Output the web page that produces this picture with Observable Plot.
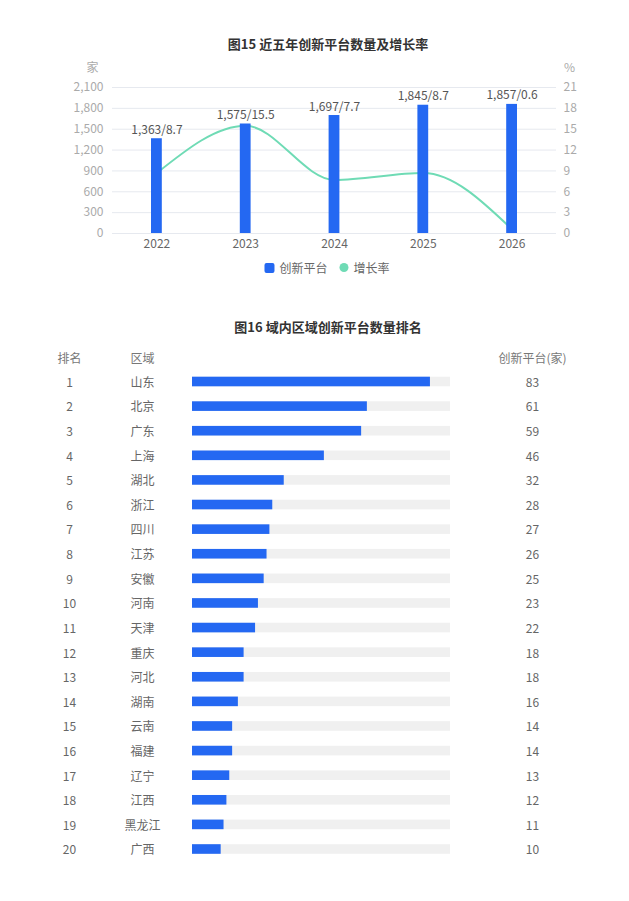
<!DOCTYPE html>
<html>
<head>
<meta charset="utf-8">
<script src="https://cdn.jsdelivr.net/npm/d3@7"></script>
<script src="https://cdn.jsdelivr.net/npm/@observablehq/plot@0.6"></script>
<style>
  html, body { margin: 0; padding: 0; background: #fff; }
  body { width: 629px; height: 901px; position: relative; font-family: "Noto Sans CJK SC", "Noto Sans", sans-serif; overflow: hidden; }
  .title { position: absolute; transform: translateX(-50%); white-space: nowrap; font-size: 13px; font-weight: bold; color: #333; line-height: 20px; }
  .abs { position: absolute; left: 0; }
  .abs svg { display: block; }
  .legend { position: absolute; top: 259px; left: 327px; transform: translateX(-50%); display: flex; align-items: center; gap: 12px; font-size: 12px; color: #666; white-space: nowrap; }
  .legend span.item { display: flex; align-items: center; gap: 5px; }
  .sw-bar { width: 10px; height: 10px; border-radius: 2px; background: #2468f2; display: inline-block; }
  .sw-dot { width: 9px; height: 9px; border-radius: 50%; background: #6fdbb5; display: inline-block; }
</style>
</head>
<body>
<div class="title" style="top:34px; left:328px;">图15 近五年创新平台数量及增长率</div>
<div id="chart1" class="abs" style="top:55px;"></div>
<div class="legend">
  <span class="item"><i class="sw-bar"></i>创新平台</span>
  <span class="item"><i class="sw-dot"></i>增长率</span>
</div>
<div class="title" style="top:317px; left:328px;">图16 域内区域创新平台数量排名</div>
<div id="chart2" class="abs" style="top:340px;"></div>
<script>
// ---- Data: chart 1 ----
const years = ["2022", "2023", "2024", "2025", "2026"];
const platforms = [1363, 1575, 1697, 1845, 1857];
const growth = [8.7, 15.5, 7.7, 8.7, 0.6];
const leftTicks = [0, 300, 600, 900, 1200, 1500, 1800, 2100];
const rateScale = 100; // right axis (%) mapped onto left axis (家): 21% <-> 2100

// ---- Data: chart 2 ----
const ranks = [1,2,3,4,5,6,7,8,9,10,11,12,13,14,15,16,17,18,19,20];
const regions = ["山东","北京","广东","上海","湖北","浙江","四川","江苏","安徽","河南","天津","重庆","河北","湖南","云南","福建","辽宁","江西","黑龙江","广西"];
const counts = [83,61,59,46,32,28,27,26,25,23,22,18,18,16,14,14,13,12,11,10];
const trackMax = 90;

const FONT = '"Noto Sans CJK SC", "Noto Sans", sans-serif';
const BLUE = "#2468f2";
const MINT = "#6fdbb5";

const data1 = years.map((y, i) => ({year: y, value: platforms[i], rate: growth[i]}));
const fmt = d3.format(",");

const chart1 = Plot.plot({
  width: 629,
  height: 200,
  marginTop: 32,
  marginBottom: 22,
  marginLeft: 112,
  marginRight: 73,
  style: {fontFamily: FONT, fontSize: "12px", background: "transparent", color: "#aaa"},
  x: {domain: years, padding: 0, round: false, label: null},
  y: {domain: [0, 2100], label: null},
  marks: [
    Plot.gridY(leftTicks, {stroke: "#e6e9ef", strokeOpacity: 1}),
    Plot.axisY(leftTicks, {anchor: "left", tickSize: 0, tickPadding: 9, tickFormat: fmt, fill: "#aaa", label: null}),
    Plot.axisY(leftTicks, {anchor: "right", tickSize: 0, tickPadding: 7, tickFormat: d => d / rateScale, fill: "#aaa", label: null}),
    Plot.axisX({tickSize: 0, tickPadding: 6, fill: "#666", label: null}),
    Plot.line(data1, {x: "year", y: d => d.rate * rateScale, stroke: MINT, strokeWidth: 2, curve: "monotone-x"}),
    Plot.barY(data1, {x: "year", y: "value", fill: BLUE, insetLeft: 39, insetRight: 39}),
    Plot.text(data1, {x: "year", y: "value", text: d => `${fmt(d.value)}/${d.rate}`, dy: -5, lineAnchor: "bottom", fill: "#555", fontSize: 12}),
    Plot.text(["家"], {frameAnchor: "top-left", text: d => d, textAnchor: "middle", lineAnchor: "middle", dx: -20, dy: -19, fill: "#aaa"}),
    Plot.text(["%"], {frameAnchor: "top-right", text: d => d, textAnchor: "middle", lineAnchor: "middle", dx: 13, dy: -19, fill: "#aaa"})
  ]
});
document.getElementById("chart1").appendChild(chart1);

const data2 = ranks.map((r, i) => ({rank: r, region: regions[i], count: counts[i]}));

const chart2 = Plot.plot({
  width: 629,
  height: 545,
  marginTop: 29.2,
  marginBottom: 23.7,
  marginLeft: 192,
  marginRight: 179,
  style: {fontFamily: FONT, fontSize: "12px", background: "transparent", color: "#666"},
  x: {domain: [0, trackMax], axis: null},
  y: {domain: ranks, padding: 0, round: false, axis: null},
  marks: [
    Plot.barX(data2, {y: "rank", x: () => trackMax, fill: "#f0f0f0", insetTop: 7.5, insetBottom: 7.5}),
    Plot.barX(data2, {y: "rank", x: "count", fill: BLUE, insetTop: 7.5, insetBottom: 7.5}),
    Plot.text(data2, {y: "rank", text: "rank", frameAnchor: "left", textAnchor: "middle", dx: -123, dy: 1, fill: "#666"}),
    Plot.text(data2, {y: "rank", text: "region", frameAnchor: "left", textAnchor: "middle", dx: -50, dy: 1, fill: "#666"}),
    Plot.text(data2, {y: "rank", text: "count", frameAnchor: "right", textAnchor: "middle", dx: 82, dy: 1, fill: "#666"}),
    Plot.text(["排名"], {frameAnchor: "top-left", text: d => d, textAnchor: "middle", lineAnchor: "middle", dx: -123, dy: -11, fill: "#777"}),
    Plot.text(["区域"], {frameAnchor: "top-left", text: d => d, textAnchor: "middle", lineAnchor: "middle", dx: -50, dy: -11, fill: "#777"}),
    Plot.text(["创新平台(家)"], {frameAnchor: "top-right", text: d => d, textAnchor: "middle", lineAnchor: "middle", dx: 82, dy: -11, fill: "#777"})
  ]
});
document.getElementById("chart2").appendChild(chart2);
</script>
</body>
</html>
